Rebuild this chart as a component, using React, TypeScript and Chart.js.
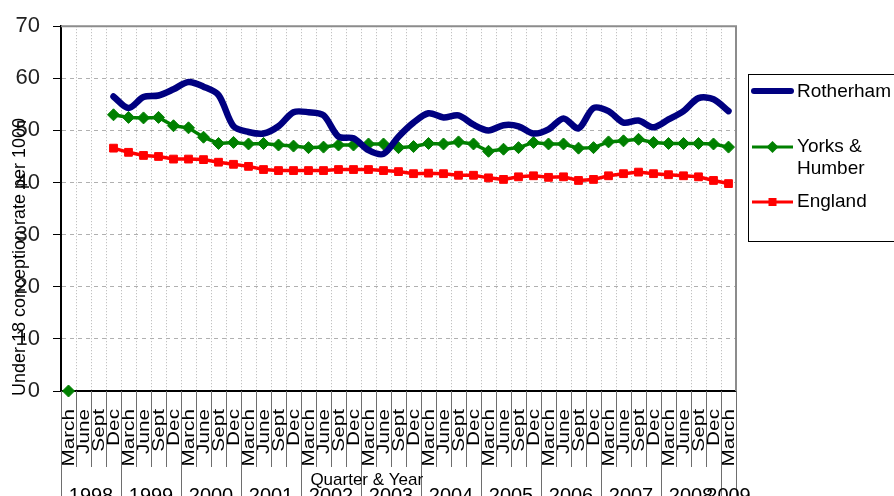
import React, { useEffect, useRef } from "react";
import { Chart, registerables } from "chart.js";

Chart.register(...registerables);

const FONT = '"Liberation Sans", Arial, Helvetica, sans-serif';

const quarterLabels = [
  "March", "June", "Sept", "Dec",
  "March", "June", "Sept", "Dec",
  "March", "June", "Sept", "Dec",
  "March", "June", "Sept", "Dec",
  "March", "June", "Sept", "Dec",
  "March", "June", "Sept", "Dec",
  "March", "June", "Sept", "Dec",
  "March", "June", "Sept", "Dec",
  "March", "June", "Sept", "Dec",
  "March", "June", "Sept", "Dec",
  "March", "June", "Sept", "Dec",
  "March",
];

const yearLabels = ["1998", "1999", "2000", "2001", "2002", "2003", "2004", "2005", "2006", "2007", "2008", "2009"];

const rotherham = [
  null, null, null, 56.5,
  54.3, 56.4, 56.7, 57.9,
  59.3, 58.4, 56.8, 50.8,
  49.7, 49.4, 50.8, 53.5,
  53.5, 52.9, 48.8, 48.5,
  46.2, 45.5, 48.8, 51.5,
  53.3, 52.5, 52.9, 51.1,
  50.0, 51.0, 50.8, 49.4,
  50.2, 52.3, 50.4, 54.3,
  53.7, 51.5, 51.9, 50.6,
  52.1, 53.7, 56.2, 56.0,
  53.7,
];

const yorksHumber = [
  0, null, null, 53.0,
  52.5, 52.4, 52.5, 50.9,
  50.5, 48.7, 47.5, 47.7,
  47.4, 47.5, 47.2, 47.0,
  46.7, 46.8, 47.2, 47.2,
  47.4, 47.4, 46.7, 46.9,
  47.5, 47.4, 47.8, 47.4,
  46.0, 46.4, 46.7, 47.7,
  47.4, 47.4, 46.6, 46.7,
  47.8, 48.0, 48.3, 47.7,
  47.5, 47.5, 47.5, 47.4,
  46.8,
];

const england = [
  null, null, null, 46.6,
  45.8, 45.2, 45.0, 44.5,
  44.5, 44.4, 43.9, 43.5,
  43.1, 42.5, 42.3, 42.3,
  42.3, 42.3, 42.5, 42.5,
  42.5, 42.3, 42.1, 41.7,
  41.8, 41.7, 41.4, 41.4,
  40.9, 40.6, 41.1, 41.3,
  41.0, 41.1, 40.4, 40.6,
  41.3, 41.7, 42.0, 41.7,
  41.5, 41.3, 41.1, 40.4,
  39.8,
];

const seriesNames = ["Rotherham", "Yorks & Humber", "England"];
const yAxisTitle = "Under 18 conception rate per 1000";
const xAxisTitle = "Quarter & Year";

const NAVY = "#000080";
const GREEN = "#008000";
const RED = "#ff0000";

const overlay = {
  id: "overlay",
  afterDraw(chart: any) {
    const { ctx, chartArea, scales } = chart;
    const xs = scales.x;
    const n = quarterLabels.length;
    const half = (xs.getPixelForValue(1) - xs.getPixelForValue(0)) / 2;
    const H = chart.height;
    ctx.save();

    // plot border top & right
    ctx.strokeStyle = "#8c8c8c";
    ctx.lineWidth = 2;
    ctx.beginPath();
    ctx.moveTo(chartArea.left, chartArea.top);
    ctx.lineTo(chartArea.right, chartArea.top);
    ctx.lineTo(chartArea.right, chartArea.bottom);
    ctx.stroke();

    // category separators below axis
    ctx.lineWidth = 1;
    ctx.strokeStyle = "#6e6e6e";
    for (let i = 0; i <= n; i++) {
      const px = Math.round(xs.getPixelForValue(i) - half) + 0.5;
      const full = i % 4 === 0 || i === n;
      ctx.beginPath();
      ctx.moveTo(px, chartArea.bottom);
      ctx.lineTo(px, full ? H : chartArea.bottom + 76);
      ctx.stroke();
    }

    // quarter labels
    ctx.fillStyle = "#000";
    ctx.font = `17px ${FONT}`;
    for (let i = 0; i < n; i++) {
      const px = xs.getPixelForValue(i);
      ctx.save();
      ctx.translate(px + 1, chartArea.bottom + 18);
      ctx.rotate(-Math.PI / 2);
      ctx.scale(1.22, 1);
      ctx.textAlign = "right";
      ctx.textBaseline = "middle";
      ctx.fillText(quarterLabels[i], 0, 0);
      ctx.restore();
    }

    // year labels
    ctx.font = `20px ${FONT}`;
    ctx.textAlign = "center";
    ctx.textBaseline = "alphabetic";
    yearLabels.forEach((yl, k) => {
      const a = 4 * k;
      const b = Math.min(4 * k + 3, n - 1);
      const cx = (xs.getPixelForValue(a) + xs.getPixelForValue(b)) / 2;
      ctx.fillText(yl, cx, chartArea.bottom + 111);
    });

    // x title
    ctx.font = `17px ${FONT}`;
    ctx.fillText(xAxisTitle, chartArea.left + (chartArea.right - chartArea.left) * 0.453, chartArea.bottom + 94);

    // y title
    ctx.save();
    ctx.translate(20, 257);
    ctx.rotate(-Math.PI / 2);
    ctx.font = `18px ${FONT}`;
    ctx.textAlign = "center";
    ctx.textBaseline = "middle";
    ctx.fillText(yAxisTitle, 0, 0);
    ctx.restore();

    // legend
    const lx = chartArea.right + 12;
    const ly = 74;
    ctx.strokeStyle = "#000";
    ctx.lineWidth = 1;
    ctx.strokeRect(lx + 0.5, ly + 0.5, 220, 167);
    const sx1 = lx + 4;
    const sx2 = lx + 45;
    const tx = lx + 49;
    ctx.font = `19px ${FONT}`;
    ctx.textAlign = "left";
    ctx.textBaseline = "middle";
    ctx.fillStyle = "#000";
    // Rotherham
    ctx.strokeStyle = NAVY;
    ctx.lineWidth = 6;
    ctx.lineCap = "round";
    ctx.beginPath();
    ctx.moveTo(sx1 + 2, 91);
    ctx.lineTo(sx2 - 2, 91);
    ctx.stroke();
    ctx.lineCap = "butt";
    ctx.fillText(seriesNames[0], tx, 92);
    // Yorks & Humber
    ctx.strokeStyle = GREEN;
    ctx.lineWidth = 3;
    ctx.beginPath();
    ctx.moveTo(sx1, 147);
    ctx.lineTo(sx2, 147);
    ctx.stroke();
    ctx.fillStyle = GREEN;
    const mx = (sx1 + sx2) / 2;
    ctx.beginPath();
    ctx.moveTo(mx, 141);
    ctx.lineTo(mx + 6, 147);
    ctx.lineTo(mx, 153);
    ctx.lineTo(mx - 6, 147);
    ctx.closePath();
    ctx.fill();
    ctx.fillStyle = "#000";
    ctx.fillText("Yorks &", tx, 147);
    ctx.fillText("Humber", tx, 169);
    // England
    ctx.strokeStyle = RED;
    ctx.lineWidth = 3;
    ctx.beginPath();
    ctx.moveTo(sx1, 202);
    ctx.lineTo(sx2, 202);
    ctx.stroke();
    ctx.fillStyle = RED;
    ctx.fillRect(mx - 4, 198, 8, 8);
    ctx.fillStyle = "#000";
    ctx.fillText(seriesNames[2], tx, 202);

    ctx.restore();
  },
};

export default function App() {
  const canvasRef = useRef<HTMLCanvasElement | null>(null);

  useEffect(() => {
    const canvas = canvasRef.current;
    if (!canvas) return;
    Chart.defaults.font.family = FONT;
    const chart = new Chart(canvas, {
      type: "line",
      data: {
        labels: quarterLabels,
        datasets: [
          {
            label: seriesNames[0],
            data: rotherham,
            borderColor: NAVY,
            backgroundColor: NAVY,
            borderWidth: 6.5,
            pointRadius: 0,
            tension: 0.3,
            spanGaps: false,
            borderCapStyle: "round",
            borderJoinStyle: "round",
          },
          {
            label: seriesNames[1],
            data: yorksHumber,
            borderColor: GREEN,
            backgroundColor: GREEN,
            borderWidth: 3.5,
            pointStyle: "rectRot",
            pointRadius: 6,
            pointBorderWidth: 1,
            tension: 0,
            spanGaps: false,
            clip: false,
          },
          {
            label: seriesNames[2],
            data: england,
            borderColor: RED,
            backgroundColor: RED,
            borderWidth: 3.5,
            pointStyle: "rect",
            pointRadius: 5.5,
            pointBorderWidth: 1,
            tension: 0,
            spanGaps: false,
          },
        ],
      },
      options: {
        responsive: false,
        animation: false,
        layout: { padding: { top: 20, right: 158, left: 0, bottom: 0 } },
        plugins: {
          legend: { display: false },
          tooltip: { enabled: false },
        },
        scales: {
          x: {
            type: "category",
            offset: true,
            grid: {
              offset: true,
              color: "#b4b4b4",
              lineWidth: 1,
              drawTicks: false,
            },
            border: { display: true, color: "#000", width: 2, dash: [1, 2] },
            ticks: { display: false },
            afterFit: (s: any) => {
              s.height = 105;
            },
          },
          y: {
            min: 0,
            max: 70,
            ticks: {
              stepSize: 10,
              color: "#222",
              font: { size: 22, family: FONT },
              padding: 13,
            },
            grid: {
              color: "#b0b0b0",
              lineWidth: 1,
              tickColor: "#000",
              tickLength: 8,
              tickWidth: 1,
            },
            border: { display: true, color: "#000", width: 2, dash: [4, 4] },
            afterFit: (s: any) => {
              s.width = 61;
            },
          },
        },
      },
      plugins: [overlay],
    } as any);
    return () => chart.destroy();
  }, []);

  return (
    <div style={{ position: "fixed", left: 0, top: 0, width: 894, height: 496, background: "#fff" }}>
      <canvas ref={canvasRef} width={894} height={496} style={{ display: "block" }} />
    </div>
  );
}
